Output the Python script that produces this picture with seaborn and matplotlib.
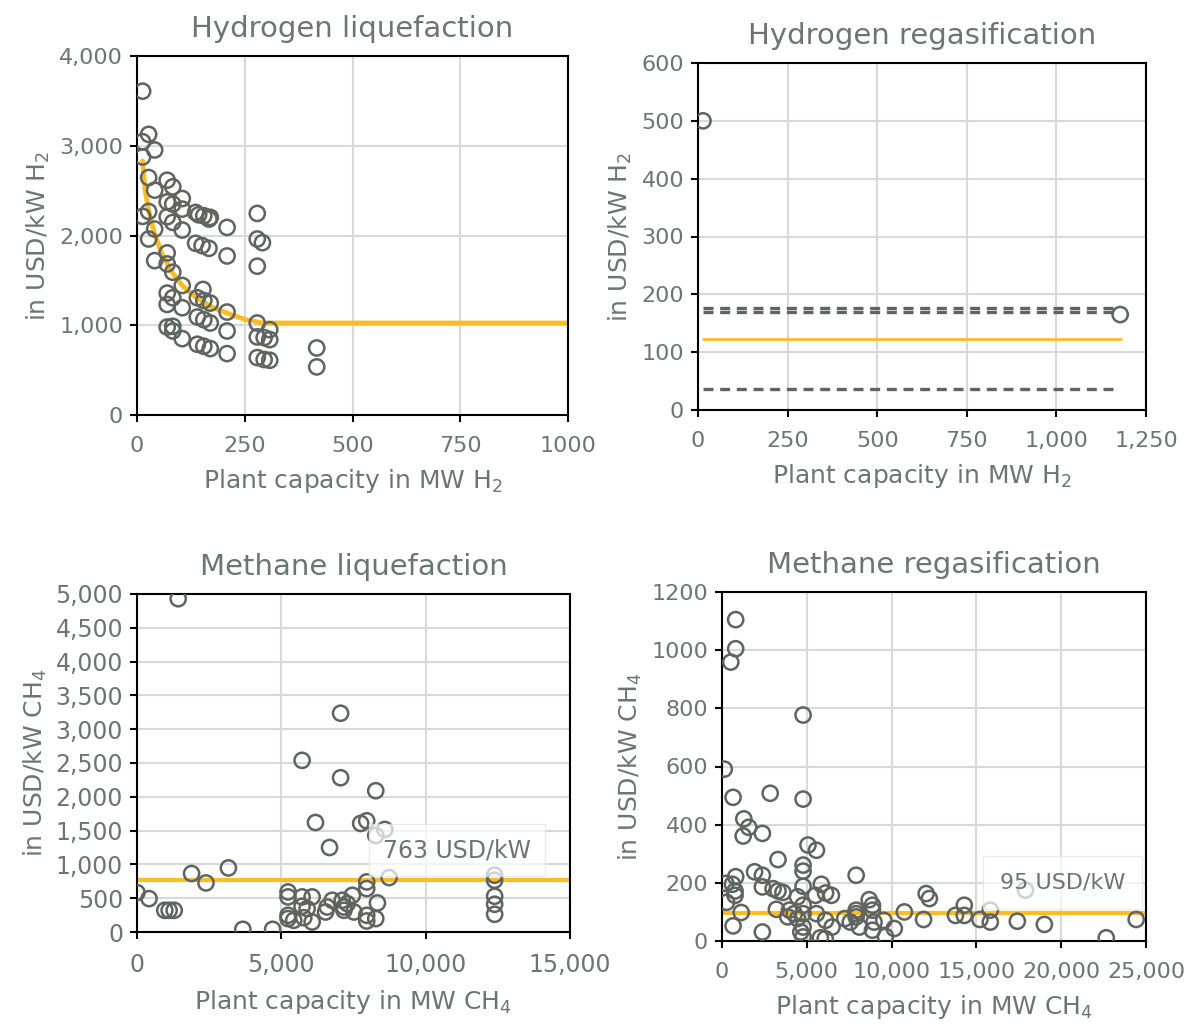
import numpy as np
import pandas as pd
import seaborn as sns
import matplotlib.pyplot as plt
from matplotlib.ticker import FuncFormatter

# Hydrogen liquefaction: plant capacity (MW H2) vs specific cost (USD/kW H2)
h2_liq_cap = [13, 27, 13, 41, 13, 27, 70, 41, 83, 105, 70, 83, 105, 13, 27, 70, 83, 105, 41, 27,
              136, 143, 155, 167, 170, 209, 136, 151, 167, 209, 279, 279, 291, 279, 70, 41, 70, 83,
              105, 70, 83, 70, 105, 153, 140, 155, 170, 209, 140, 155, 170, 209, 70, 83, 83, 105,
              140, 155, 170, 209, 279, 308, 279, 295, 308, 279, 295, 308, 417, 417]
h2_liq_cost = [3608, 3127, 3045, 2953, 2875, 2646, 2616, 2505, 2542, 2412, 2375, 2350, 2294, 2213,
               2268, 2209, 2146, 2061, 2072, 1961, 2257, 2231, 2220, 2183, 2202, 2090, 1913, 1887,
               1857, 1772, 2246, 1961, 1920, 1658, 1806, 1720, 1683, 1591, 1443, 1358, 1306, 1232,
               1195, 1399, 1306, 1276, 1247, 1147, 1092, 1062, 1025, 936, 980, 988, 936, 851, 788,
               766, 740, 684, 1025, 951, 870, 862, 840, 640, 618, 610, 747, 536]
h2_liq_fit_cap = [13, 19, 27, 41, 58, 81, 105, 136, 174, 213, 252, 291, 1000]
h2_liq_fit_cost = [2830, 2500, 2276, 2016, 1794, 1591, 1443, 1313, 1202, 1128, 1062, 1025, 1025]

# Hydrogen regasification
h2_reg_cap = [14, 1178]
h2_reg_cost = [500, 165]
h2_reg_span = [14, 1165]
h2_reg_dashed = [177, 170, 37]
h2_reg_fit_span = [14, 1180]
h2_reg_fit = 123

# Methane liquefaction
ch4_liq_cap = [1427, 7053, 5719, 7053, 8271, 6183, 7749, 7958, 8584, 8271, 6670, 1891, 3167, 2390,
               0, 418, 963, 1114, 1288, 3666, 4698, 8735, 7958, 7958, 12389, 12389, 12389, 12389,
               12389, 5232, 5232, 5719, 6067, 5719, 5893, 5232, 5232, 5429, 5777, 6067, 6531, 6589,
               6763, 7111, 7169, 7285, 7459, 7517, 7169, 7958, 7958, 8271, 8329]
ch4_liq_cost = [4930, 3236, 2539, 2282, 2090, 1620, 1606, 1645, 1517, 1428, 1250, 865, 948, 726,
                583, 494, 321, 321, 321, 40, 40, 805, 741, 642, 840, 766, 529, 410, 262, 593, 519,
                519, 519, 380, 346, 247, 198, 173, 212, 148, 296, 370, 469, 469, 370, 420, 543, 296,
                321, 247, 163, 198, 430]
ch4_liq_mean = 763

# Methane regasification
ch4_reg_cap = [806, 806, 518, 4781, 134, 653, 2842, 4781, 1286, 1574, 1248, 2381, 5069, 5568, 3302,
               4781, 4781, 1920, 2381, 806, 230, 614, 768, 768, 269, 1133, 653, 2381, 2381, 3014,
               3302, 3590, 4781, 4454, 4781, 3206, 3974, 4262, 3878, 4454, 4781, 4781, 4646, 4781,
               5856, 5510, 6106, 6451, 5568, 6106, 6490, 5798, 6086, 7910, 7910, 7910, 7910, 7238,
               7565, 8102, 8678, 8870, 8870, 8966, 8870, 9542, 9638, 10157, 10752, 11885, 12038,
               12230, 13766, 14285, 14285, 15206, 15821, 15821, 17414, 17894, 19008, 22656, 24422]
ch4_reg_cost = [1105, 1005, 959, 777, 591, 494, 508, 488, 420, 391, 361, 370, 330, 312, 280, 261,
                240, 238, 226, 221, 198, 195, 172, 157, 133, 98, 52, 31, 186, 180, 172, 167, 188,
                152, 123, 109, 106, 94, 83, 77, 94, 48, 31, 14, 195, 157, 165, 157, 94, 71, 48, 11,
                8, 226, 106, 94, 83, 77, 65, 48, 142, 123, 106, 65, 37, 71, 16, 43, 100, 74, 163,
                146, 88, 123, 88, 74, 106, 65, 68, 175, 57, 11, 74]
ch4_reg_mean = 95

TXT = '#6E7472'
PT = '#5F6461'
GOLD = '#FBBC24'

sns.set_theme(style='white')
plt.rcParams['font.family'] = ['DejaVu Sans']
plt.rcParams['mathtext.fontset'] = 'dejavusans'

fig = plt.figure(figsize=(12.02, 10.26), dpi=100)
W, H = 1202, 1026


def box(l, r, t, b):
    return fig.add_axes([l / W, 1 - b / H, (r - l) / W, (b - t) / H])


ax1 = box(137, 568, 56, 415)
ax2 = box(698, 1146, 63, 410)
ax3 = box(137, 570, 594, 932)
ax4 = box(722, 1146, 592, 941)

comma = FuncFormatter(lambda v, p: f'{v:,.0f}')
plain = FuncFormatter(lambda v, p: f'{v:.0f}')


def style(ax, title, xlabel, ylabel, xlim, ylim, xt, yt, xf, yf, tsize=16):
    ax.set_xlim(*xlim)
    ax.set_ylim(*ylim)
    ax.set_xticks(xt)
    ax.set_yticks(yt)
    ax.xaxis.set_major_formatter(xf)
    ax.yaxis.set_major_formatter(yf)
    ax.grid(True, color='#D9D9D9', lw=1.5)
    ax.set_axisbelow(True)
    for s in ax.spines.values():
        s.set_color('black')
        s.set_linewidth(1.5)
    ax.tick_params(direction='out', length=5, width=1.5, color='black',
                   labelcolor=TXT, labelsize=tsize, bottom=True, left=True)
    ax.tick_params(axis='x', pad=10)
    ax.tick_params(axis='y', pad=5)
    ax.set_title(title, color=TXT, fontsize=21, pad=14)
    ax.set_xlabel(xlabel, color=TXT, fontsize=18, labelpad=8)
    ax.set_ylabel(ylabel, color=TXT, fontsize=18, labelpad=5)


def points(ax, x, y):
    sns.scatterplot(x=x, y=y, ax=ax, s=120, facecolor='none', edgecolor=PT,
                    linewidth=1.8, zorder=3)


# Hydrogen liquefaction
sns.lineplot(x=h2_liq_fit_cap, y=h2_liq_fit_cost, ax=ax1, color=GOLD, lw=3.5, zorder=2)
points(ax1, h2_liq_cap, h2_liq_cost)
style(ax1, 'Hydrogen liquefaction', 'Plant capacity in MW H$_2$', 'in USD/kW H$_2$',
      (0, 1000), (0, 4000), [0, 250, 500, 750, 1000], [0, 1000, 2000, 3000, 4000], plain, comma)

# Hydrogen regasification
for lvl in h2_reg_dashed:
    sns.lineplot(x=h2_reg_span, y=[lvl, lvl], ax=ax2, color='#5F6461', lw=2.4,
                 dashes=(3, 2), zorder=2)
sns.lineplot(x=h2_reg_fit_span, y=[h2_reg_fit, h2_reg_fit], ax=ax2, color=GOLD, lw=2, zorder=2)
points(ax2, h2_reg_cap, h2_reg_cost)
style(ax2, 'Hydrogen regasification', 'Plant capacity in MW H$_2$', 'in USD/kW H$_2$',
      (0, 1250), (0, 600), [0, 250, 500, 750, 1000, 1250], range(0, 601, 100), comma, plain)

# Methane liquefaction
ax3.axhline(ch4_liq_mean, color=GOLD, lw=3, zorder=2)
points(ax3, ch4_liq_cap, ch4_liq_cost)
style(ax3, 'Methane liquefaction', 'Plant capacity in MW CH$_4$', 'in USD/kW CH$_4$',
      (0, 15000), (0, 5000), [0, 5000, 10000, 15000], range(0, 5001, 500), comma, comma, tsize=17)
ax3.text(11085, 1213, f'{ch4_liq_mean} USD/kW', color=TXT, fontsize=17, ha='center', va='center',
         zorder=5, bbox=dict(boxstyle='square,pad=0.6', fc='white', ec='#E3E3E3', alpha=0.7))

# Methane regasification
ax4.axhline(ch4_reg_mean, color=GOLD, lw=3, zorder=2)
points(ax4, ch4_reg_cap, ch4_reg_cost)
style(ax4, 'Methane regasification', 'Plant capacity in MW CH$_4$', 'in USD/kW CH$_4$',
      (0, 25000), (0, 1200), range(0, 25001, 5000), range(0, 1201, 200), comma, plain)
ax4.text(20065, 200, f'{ch4_reg_mean} USD/kW', color=TXT, fontsize=16, ha='center', va='center',
         zorder=5, bbox=dict(boxstyle='square,pad=0.75', fc='white', ec='#E3E3E3', alpha=0.7))

fig.savefig('out.png', dpi=100)
